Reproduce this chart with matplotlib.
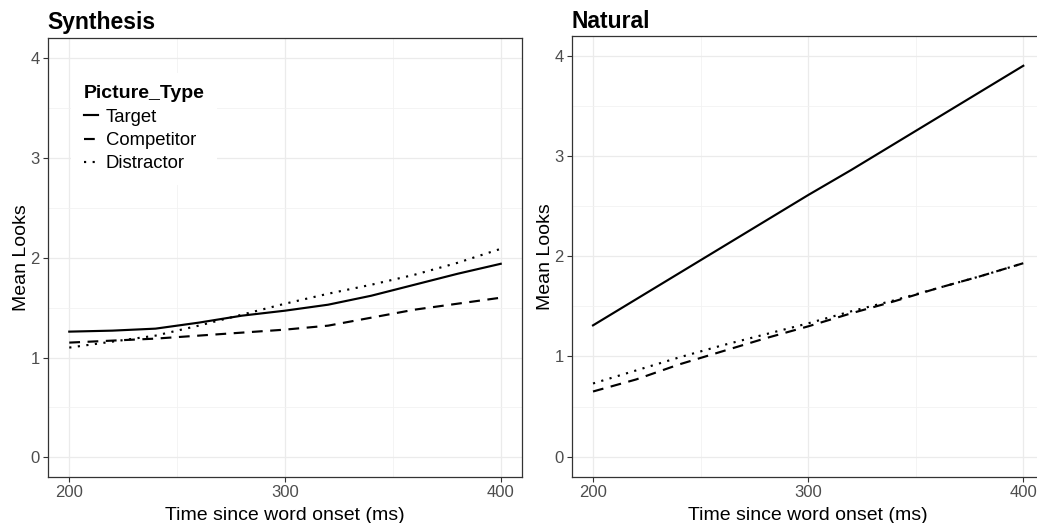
import matplotlib
matplotlib.use("Agg")
import matplotlib.pyplot as plt
from matplotlib.ticker import MultipleLocator

plt.rcParams['font.family'] = ['Liberation Sans', 'DejaVu Sans']

# time since word onset (ms)
time_ms = [200, 220, 240, 260, 280, 300, 320, 340, 360, 380, 400]

picture_types = ["Target", "Competitor", "Distractor"]

# Synthesis panel
synth_target = [1.26, 1.27, 1.29, 1.35, 1.42, 1.47, 1.53, 1.62, 1.73, 1.84, 1.94]
synth_competitor = [1.15, 1.17, 1.19, 1.22, 1.25, 1.28, 1.32, 1.40, 1.48, 1.54, 1.60]
synth_distractor = [1.10, 1.16, 1.22, 1.32, 1.43, 1.54, 1.64, 1.73, 1.83, 1.95, 2.09]

# Natural panel
nat_target = [1.31, 1.57, 1.83, 2.09, 2.35, 2.61, 2.86, 3.12, 3.38, 3.64, 3.90]
nat_competitor = [0.65, 0.77, 0.92, 1.05, 1.18, 1.30, 1.43, 1.55, 1.68, 1.80, 1.93]
nat_distractor = [0.73, 0.86, 0.99, 1.11, 1.22, 1.33, 1.45, 1.56, 1.68, 1.80, 1.93]

panels = [
    ("Synthesis", [synth_target, synth_competitor, synth_distractor]),
    ("Natural", [nat_target, nat_competitor, nat_distractor]),
]

styles = {
    "Target": dict(linestyle="-"),
    "Competitor": dict(dashes=(5, 3.5)),
    "Distractor": dict(dashes=(1, 3)),
}

W, H = 1037, 523
fig = plt.figure(figsize=(W / 100, H / 100), dpi=100)

# axes boxes in pixels: left, top, right, bottom
boxes = [(47.7, 38.3, 522.3, 477.3), (571.5, 35.7, 1044.8, 476.7)]
title_base = [29.0, 28.5]

border = "#333333"
for (title, series), (l, t, r, b), tb in zip(panels, boxes, title_base):
    ax = fig.add_axes([l / W, 1 - b / H, (r - l) / W, (b - t) / H])
    for name, vals in zip(picture_types, series):
        ax.plot(time_ms, vals, color="black", linewidth=1.55, label=name, **styles[name])

    ax.set_xlim(190, 410)
    ax.set_ylim(-0.2, 4.2)
    ax.xaxis.set_major_locator(MultipleLocator(100))
    ax.xaxis.set_minor_locator(MultipleLocator(50))
    ax.yaxis.set_major_locator(MultipleLocator(1))
    ax.yaxis.set_minor_locator(MultipleLocator(0.5))
    ax.grid(True, which="major", color="#EBEBEB", linewidth=0.9)
    ax.grid(True, which="minor", color="#F2F2F2", linewidth=0.6)
    ax.set_axisbelow(True)
    ax.tick_params(which="major", length=3.5, width=0.8, color=border,
                   labelsize=12, labelcolor="#4D4D4D", pad=2.2)
    ax.tick_params(which="minor", length=0)
    for sp in ax.spines.values():
        sp.set_color(border)
        sp.set_linewidth(0.9)

    ax.set_xlabel("Time since word onset (ms)", fontsize=14, va="baseline")
    ax.xaxis.set_label_coords(0.5, -(520 - b) / (b - t))
    ax.set_ylabel("Mean Looks", fontsize=14, va="center")
    ax.yaxis.set_label_coords(-26.5 / (r - l), 0.5)

    fig.text(l / W, 1 - tb / H, title, fontsize=16.5, fontweight="bold",
             ha="left", va="baseline")

    leg = ax.legend(title="Picture_Type", loc="upper left",
                    bbox_to_anchor=((70.7 - l) / (r - l), (b - 72.5) / (b - t)),
                    borderaxespad=0, borderpad=0.7, fontsize=13.3,
                    title_fontproperties={"weight": "bold", "size": 14},
                    handlelength=0.8, handletextpad=0.4, labelspacing=0.34,
                    alignment="left", frameon=True, fancybox=False,
                    facecolor="white", edgecolor="none", framealpha=1)

fig.savefig("out.png", dpi=100)
